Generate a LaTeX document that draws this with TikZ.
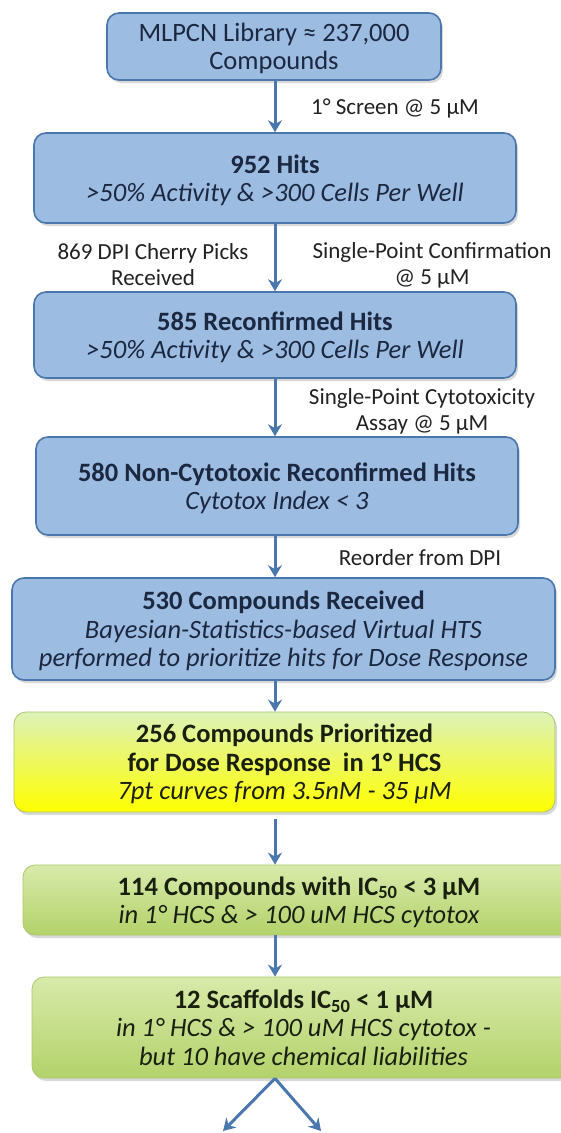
\documentclass[tikz,border=0pt]{standalone}
\usepackage{fontspec}
\setmainfont{Carlito}
\usetikzlibrary{arrows.meta,shadows}
\definecolor{bfill}{HTML}{9DBCE2}
\definecolor{bdraw}{HTML}{4A77AD}
\definecolor{btext}{HTML}{1B2840}
\definecolor{arrc}{HTML}{4A77AD}
\definecolor{gtop}{HTML}{D8EAAA}
\definecolor{gbot}{HTML}{B3D26A}
\definecolor{gdraw}{HTML}{A9C870}
\definecolor{gtext}{HTML}{1A2010}
\definecolor{ytop}{HTML}{DDF2B8}
\definecolor{ymid}{HTML}{EEF7A8}
\definecolor{ybot}{HTML}{FFFF00}
\definecolor{ltext}{HTML}{222222}
\begin{document}
\begin{tikzpicture}[x=1pt,y=-1pt,
  box/.style={rectangle, rounded corners=12pt, align=center, inner sep=0pt,
    font=\fontsize{26.5}{28.5}\selectfont,
    drop shadow={opacity=0.3, shadow xshift=2pt, shadow yshift=-3pt}},
  bluebox/.style={box, draw=bdraw, line width=1.6pt, fill=bfill, text=btext},
  greenbox/.style={box, draw=gdraw, line width=0.8pt, top color=gtop, bottom color=gbot, text=gtext},
  yellowbox/.style={box, draw=gdraw, line width=0.8pt, top color=ytop, middle color=ymid, bottom color=ybot, text=gtext},
  lab/.style={align=center, inner sep=0pt, text=ltext, font=\fontsize{23}{26}\selectfont},
  arr/.style={draw=arrc, line width=3pt, -{Stealth[length=12pt, width=14pt, inset=4pt]}}
]
\useasboundingbox (0,0) rectangle (560,1133);
\fill[white] (0,0) rectangle (560,1133);
\coordinate (ax) at (275,0);

\node[bluebox, minimum width=334pt, minimum height=67pt, text depth=-6.7pt] (b1) at (274,46.5)
  {MLPCN Library ≈ 237,000\\Compounds};
\node[bluebox, minimum width=482pt, minimum height=90pt, text depth=-20.7pt] (b2) at (275,178)
  {\textbf{952 Hits}\\\textit{>50\% Activity \& >300 Cells Per Well}};
\node[bluebox, minimum width=482pt, minimum height=86pt, text depth=-1.7pt] (b3) at (275,335)
  {\textbf{585 Reconfirmed Hits}\\\textit{>50\% Activity \& >300 Cells Per Well}};
\node[bluebox, minimum width=482pt, minimum height=98pt, text depth=-12.7pt] (b4) at (277,486)
  {\textbf{580 Non-Cytotoxic Reconfirmed Hits}\\\textit{Cytotox Index < 3}};
\node[bluebox, minimum width=543pt, minimum height=102pt, text depth=-6.7pt] (b5) at (283.5,629)
  {\textbf{530 Compounds Received}\\\textit{Bayesian-Statistics-based Virtual HTS}\\\textit{performed to prioritize hits for Dose Response}};
\node[yellowbox, minimum width=541pt, minimum height=100pt, text depth=-16.7pt] (b6) at (284.5,762)
  {\textbf{256 Compounds Prioritized}\\\textbf{for Dose Response\ \ in 1° HCS}\\\textit{7pt curves from 3.5nM - 35 μM}};
\node[greenbox, minimum width=552pt, minimum height=70pt, text depth=-8.7pt] (b7) at (299,900)
  {\textbf{114 Compounds with IC\textsubscript{50} < 3 μM}\\\textit{in 1° HCS \& > 100 uM HCS cytotox}};
\node[greenbox, minimum width=543pt, minimum height=101pt, text depth=-8.7pt] (b8) at (303.5,1027.5)
  {\textbf{12 Scaffolds IC\textsubscript{50} < 1 μM}\\\textit{in 1° HCS \& > 100 uM HCS cytotox -}\\\textit{but 10 have chemical liabilities}};

\node[lab] (l1) at (395,108) {1° Screen @ 5 μM};
\node[lab] (l2) at (153,265) {869 DPI Cherry Picks\\Received};
\node[lab] (l3) at (432,265) {Single-Point Confirmation\\@ 5 μM};
\node[lab] (l4) at (422,411) {Single-Point Cytotoxicity\\Assay @ 5 μM};
\node[lab] (l5) at (420,558) {Reorder from DPI};

\draw[arr] (ax |- b1.south) -- (ax |- b2.north);
\draw[arr] (ax |- b2.south) -- (ax |- b3.north);
\draw[arr] (ax |- b3.south) -- (ax |- b4.north);
\draw[arr] (ax |- b4.south) -- (ax |- b5.north);
\draw[arr] (ax |- b5.south) -- (ax |- b6.north);
\draw[arr] ([yshift=-7pt]ax |- b6.south) -- (ax |- b7.north);
\draw[arr] (ax |- b7.south) -- (ax |- b8.north);

\coordinate (e1) at (223,1131);
\coordinate (e2) at (321,1131);
\draw[arr] (ax |- b8.south) -- (e1);
\draw[arr] (ax |- b8.south) -- (e2);
\end{tikzpicture}
\end{document}
